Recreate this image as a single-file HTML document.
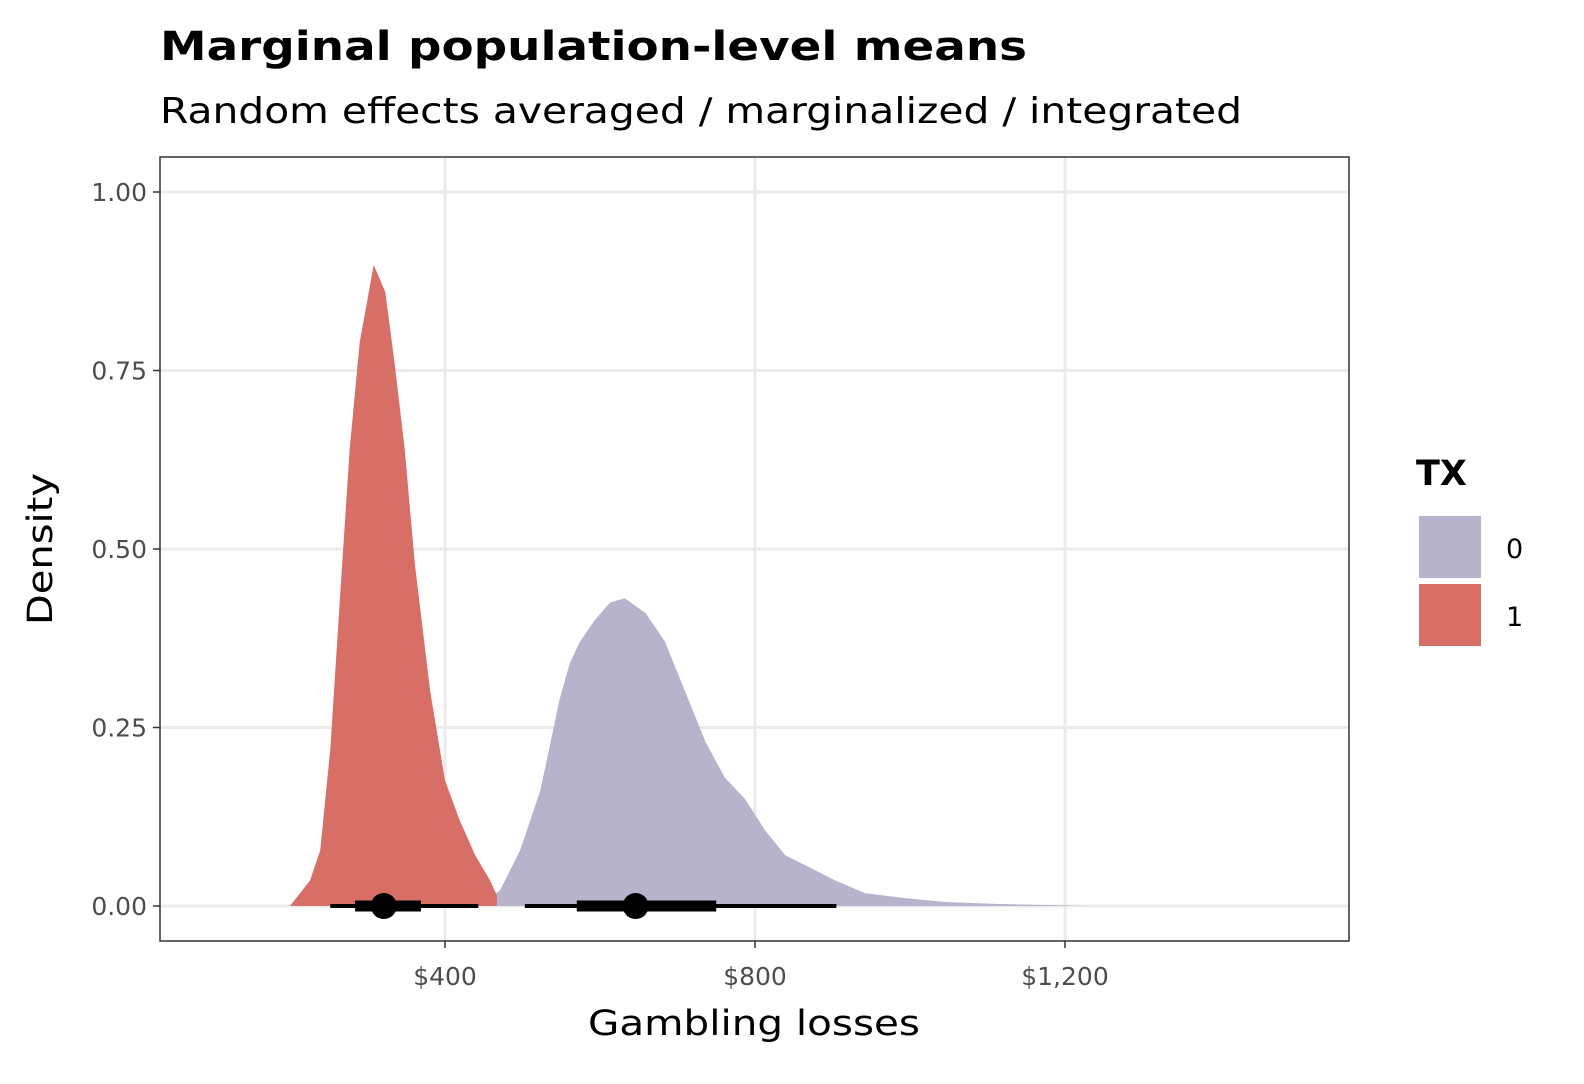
<!DOCTYPE html>
<html><head><meta charset="utf-8"><style>
body{margin:0;background:#fff;font-family:"DejaVu Sans","Liberation Sans",sans-serif}
</style></head><body>
<svg id="chart" width="1584" height="1080" xmlns="http://www.w3.org/2000/svg" font-family="DejaVu Sans, Liberation Sans, sans-serif">
<text x="160" y="60" font-size="40" font-weight="bold" fill="#000" textLength="867" lengthAdjust="spacingAndGlyphs">Marginal population-level means</text>
<text x="160" y="123" font-size="36" fill="#000" textLength="1082" lengthAdjust="spacingAndGlyphs">Random effects averaged / marginalized / integrated</text>
<g id="grid"></g>
<g id="marks"></g>
<g id="intervals"></g>
<rect x="160" y="157" width="1189" height="784" fill="none" stroke="#333" stroke-width="1.5"/>
<g id="axes"></g>
<text x="754" y="1035" font-size="35" text-anchor="middle" fill="#000" textLength="332" lengthAdjust="spacingAndGlyphs">Gambling losses</text>
<text transform="translate(52,549) rotate(-90)" font-size="35" text-anchor="middle" fill="#000" textLength="152" lengthAdjust="spacingAndGlyphs">Density</text>
<text x="1416" y="485" font-size="35" font-weight="bold" fill="#000">TX</text>
<rect x="1419" y="516" width="62" height="62" fill="#b8b3cd"/>
<text x="1506" y="558" font-size="27" fill="#000">0</text>
<rect x="1419" y="584" width="62" height="62" fill="#d86f66"/>
<text x="1506" y="626" font-size="27" fill="#000">1</text>
</svg>
<script>
const xTicks=[400,800,1200];
const xTickLabels=["$400","$800","$1,200"];
const yTicks=[0,0.25,0.5,0.75,1];
const yTickLabels=["0.00","0.25","0.50","0.75","1.00"];
const tx0X=[445,471,497,523,548,561,574,593,613,632,659,684,710,736,761,787,813,839,865,903,942,994,1045,1110,1232];
const tx0Y=[0,0.022,0.078,0.162,0.29,0.34,0.37,0.40,0.425,0.431,0.41,0.37,0.30,0.23,0.18,0.15,0.106,0.071,0.057,0.036,0.018,0.011,0.0056,0.003,0];
const tx1X=[200,226,239,252,265,277,290,308,323,335,348,361,381,400,419,439,458,467];
const tx1Y=[0,0.036,0.078,0.22,0.44,0.64,0.79,0.898,0.86,0.76,0.64,0.48,0.30,0.176,0.12,0.071,0.036,0.015];
const intervalGroups=["0","1"];
const pointEst=[646,321];
const innerLo=[570,284];
const innerHi=[750,369];
const outerLo=[503,252];
const outerHi=[905,443];
const NS="http://www.w3.org/2000/svg";
const sx=v=>135+v*0.775;
const sy=v=>906-v*714;
function mk(tag,at,parent){const e=document.createElementNS(NS,tag);for(const k in at)e.setAttribute(k,at[k]);document.getElementById(parent).appendChild(e);return e;}
xTicks.forEach((v,i)=>{const l=mk('line',{x1:sx(v),x2:sx(v),y1:157,y2:941,stroke:'#ebebeb','stroke-width':3},'grid');


const t=mk('line',{x1:sx(v),x2:sx(v),y1:941,y2:948,stroke:'#333','stroke-width':1.5},'axes');


const tx=mk('text',{x:sx(v),y:985,'font-size':25,'text-anchor':'middle',fill:'#4d4d4d'},'axes');tx.textContent=xTickLabels[i];

});
yTicks.forEach((v,i)=>{const l=mk('line',{x1:160,x2:1349,y1:sy(v),y2:sy(v),stroke:'#ebebeb','stroke-width':3},'grid');


const t=mk('line',{x1:153,x2:160,y1:sy(v),y2:sy(v),stroke:'#333','stroke-width':1.5},'axes');


const tx=mk('text',{x:147,y:sy(v)+9,'font-size':25,'text-anchor':'end',fill:'#4d4d4d'},'axes');tx.textContent=yTickLabels[i];

});
function area(xs,ys,col,name){let d='M'+sx(xs[0])+','+sy(0);xs.forEach((x,i)=>d+=' L'+sx(x)+','+sy(ys[i]));d+=' L'+sx(xs[xs.length-1])+','+sy(0)+' Z';
const p=mk('path',{d:d,fill:col,'stroke-linejoin':'round'},'marks');

}
area(tx0X,tx0Y,'#b8b3cd','density-tx0');
area(tx1X,tx1Y,'#d86f66','density-tx1');
intervalGroups.forEach((g,i)=>{const o=mk('line',{x1:sx(outerLo[i]),x2:sx(outerHi[i]),y1:906,y2:906,stroke:'#000','stroke-width':4},'intervals');


const n=mk('line',{x1:sx(innerLo[i]),x2:sx(innerHi[i]),y1:906,y2:906,stroke:'#000','stroke-width':11},'intervals');


const c=mk('circle',{cx:sx(pointEst[i]),cy:906,r:13,fill:'#000'},'intervals');

});
</script>
</body></html>
